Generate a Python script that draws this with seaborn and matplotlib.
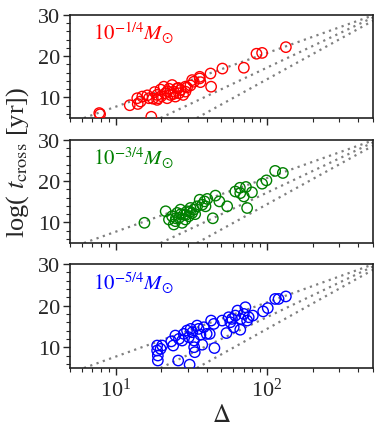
import numpy as np
import pandas as pd
import matplotlib
matplotlib.use("Agg")
import matplotlib.pyplot as plt
import seaborn as sns
from matplotlib.ticker import MultipleLocator, LogLocator, NullFormatter

sns.set_style("ticks")
plt.rcParams['font.family'] = ['Liberation Serif', 'DejaVu Serif']
plt.rcParams['mathtext.fontset'] = 'stix'

# ---- data ----
labels = [r"$10^{-1/4}M_{\odot}$", r"$10^{-3/4}M_{\odot}$", r"$10^{-5/4}M_{\odot}$"]
colors = ["red", "green", "blue"]

delta_1 = [7.8, 7.9, 12.4, 14.0, 14.6, 13.9, 15.0, 16.2, 17.2, 18.1, 18.8, 19.1, 19.8, 20.8,
           21.3, 21.9, 22.5, 23.0, 23.6, 24.2, 24.8, 25.5, 26.2, 26.8, 27.9, 28.9, 29.6,
           31.2, 32.8, 28.9, 32.0, 35.9, 36.3, 35.9, 42.3, 42.7, 50.7, 70.2, 85.1, 92.7,
           133, 17.6, 18.8, 16.6, 20.0, 22.0, 24.0, 26.0]
tc_1 = [6.2, 5.9, 8.1, 8.4, 9.0, 9.8, 10.2, 10.5, 5.3, 11.3, 10.6, 9.8, 11.9, 12.6,
        11.0, 9.8, 12.1, 10.6, 13.0, 11.4, 10.2, 12.2, 11.0, 11.8, 10.6, 11.4, 12.4,
        12.9, 13.8, 12.6, 14.2, 14.6, 13.7, 15.0, 15.8, 12.6, 17.0, 17.2, 20.6, 20.8,
        22.2, 9.7, 9.4, 9.8, 10.3, 11.5, 10.8, 12.3]

delta_2 = [15.5, 21.4, 22.5, 23.6, 24.2, 24.8, 25.5, 26.2, 26.8, 27.5, 28.2, 28.9, 29.6,
           30.4, 31.2, 32.0, 32.8, 34.5, 35.9, 37.3, 38.6, 40.3, 39.2, 43.8, 45.6, 48.4,
           54.5, 61.7, 66.1, 66.5, 70.2, 72.5, 73.8, 79.4, 92.7, 99, 113, 127,
           25.0, 27.0, 29.0, 31.0, 33.5]
tc_2 = [9.9, 12.7, 10.7, 11.5, 9.5, 10.3, 12.3, 11.1, 13.1, 9.9, 11.9, 10.7, 12.7,
        11.5, 13.5, 12.3, 13.1, 13.9, 15.5, 14.3, 15.1, 15.7, 13.9, 11.0, 16.5, 15.1,
        13.9, 17.5, 18.4, 17.1, 16.3, 18.6, 13.5, 17.3, 19.4, 20.2, 22.5, 22.0,
        11.0, 12.0, 11.8, 12.6, 12.0]

delta_3 = [18.8, 18.8, 19.0, 19.0, 19.8, 20.3, 23.3, 24.0, 24.8, 25.9, 26.2, 27.5, 28.2,
           29.6, 30.4, 30.8, 31.3, 32.1, 32.9, 33.0, 33.3, 34.5, 35.3, 36.3, 37.3, 38.2,
           39.9, 41.8, 42.7, 44.5, 44.9, 50.5, 53.9, 55.8, 57.2, 58.6, 60.2, 61.7, 63.8,
           66.5, 67.2, 70.2, 71.9, 73.8, 75.6, 80.5, 94.2, 101, 113, 119, 133]
tc_3 = [10.4, 9.2, 8.0, 6.8, 9.6, 10.4, 11.4, 10.4, 12.8, 6.8, 12.0, 11.6, 13.2,
        14.0, 12.4, 5.8, 14.4, 13.6, 11.6, 10.0, 8.8, 15.2, 14.4, 13.0, 10.6, 14.8,
        13.2, 13.2, 16.4, 15.6, 9.8, 16.4, 13.4, 17.2, 16.0, 16.8, 14.8, 17.6, 18.8,
        14.2, 16.8, 18.0, 19.6, 16.4, 17.2, 17.6, 18.6, 19.4, 21.6, 21.6, 22.2]

# reference (dotted) relations: endpoints in (Delta, log t_cross)
ref_delta_start = [6.18, 19.8, 34.4]
ref_tc_start = [5.0, 5.0, 5.0]
ref_delta_end = [500.0, 500.0, 500.0]
ref_tc_end = [29.9, 29.4, 28.6]

datasets = [(delta_1, tc_1), (delta_2, tc_2), (delta_3, tc_3)]

W, H = 383, 435
fig = plt.figure(figsize=(W / 100, H / 100), dpi=100)
left, right = 70 / W, 373 / W
panels_px = [(16, 119), (141, 244), (265, 369)]

axes = []
for i, ((xd, yd), (top, bot)) in enumerate(zip(datasets, panels_px)):
    ax = fig.add_axes([left, 1 - bot / H, right - left, (bot - top) / H])
    axes.append(ax)
    for xs, ys, xe, ye in zip(ref_delta_start, ref_tc_start, ref_delta_end, ref_tc_end):
        ax.plot([xs, xe], [ys, ye], linestyle=(0, (1, 2)), color="gray", lw=1.6, zorder=1)
    df = pd.DataFrame({"delta": xd, "tc": yd})
    sns.scatterplot(data=df, x="delta", y="tc", ax=ax, marker="o", s=56,
                    fc="none", ec=colors[i], linewidth=1.0, zorder=3)
    ax.set_xscale("log")
    ax.set_xlim(5, 500)
    ax.set_ylim(5, 30)
    ax.yaxis.set_major_locator(MultipleLocator(10))
    ax.yaxis.set_minor_locator(MultipleLocator(2))
    ax.xaxis.set_minor_locator(LogLocator(base=10, subs=np.arange(2, 10)))
    ax.tick_params(which="major", length=5, width=1, labelsize=16, direction="out", pad=2)
    ax.tick_params(which="minor", length=3, width=0.8, direction="out")
    ax.set_xlabel("")
    ax.set_ylabel("")
    for sp in ax.spines.values():
        sp.set_linewidth(1.2)
        sp.set_color("#222222")
    ax.text(0.075, 0.835, labels[i], color=colors[i], transform=ax.transAxes,
            fontsize=15, va="center", ha="left")
    if i < 2:
        ax.xaxis.set_major_formatter(NullFormatter())
        ax.xaxis.set_minor_formatter(NullFormatter())

axes[2].set_xlabel(r"$\Delta$", fontsize=18, labelpad=2)
fig.text(0.045, 1 - 162 / H, r"log( $t_{\rm cross}$ [yr])", rotation=90, fontsize=19,
         va="center", ha="center")

fig.savefig("out.png", dpi=100)
